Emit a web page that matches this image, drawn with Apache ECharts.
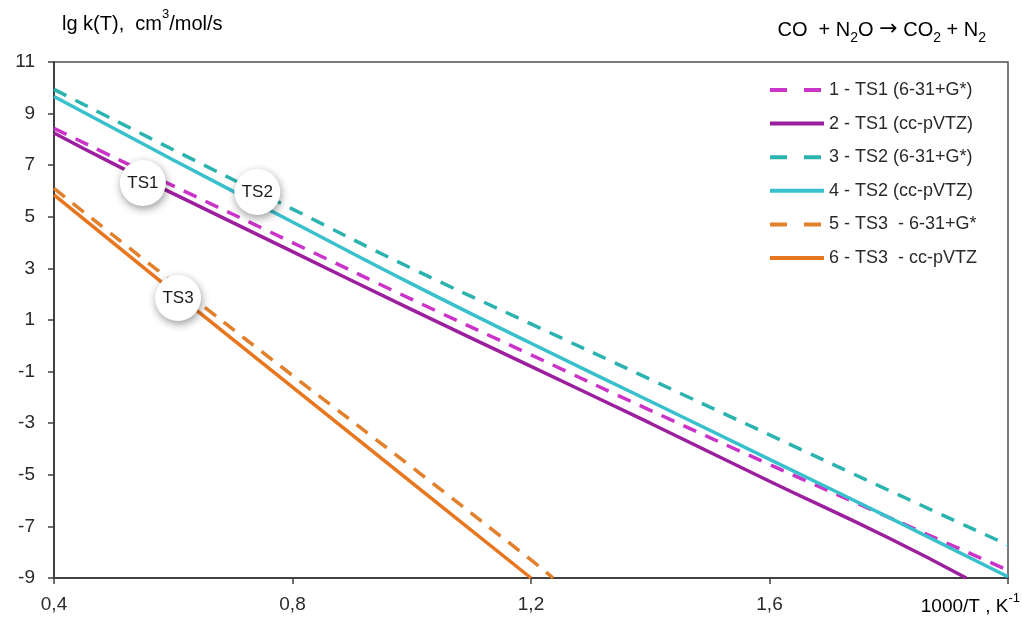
<!DOCTYPE html>
<html>
<head>
<meta charset="utf-8">
<script src="https://cdn.jsdelivr.net/npm/echarts@6/dist/echarts.min.js"></script>
<style>
  html, body { margin: 0; padding: 0; background: #fff; }
  #chart { width: 1022px; height: 620px; }
</style>
</head>
<body>
<div id="chart"></div>
<script>
// lg k(T) vs 1000/T
var ts1Basis = [[0.4, 8.43], [0.6, 6.2], [0.8, 4.0], [1.0, 1.8], [1.2, -0.35], [1.4, -2.5], [1.6, -4.6], [1.8, -6.65], [2.0, -8.7]];
var ts1Vtz = [[0.4, 8.25], [0.5, 7.05], [0.6, 5.9], [0.8, 3.65], [1.0, 1.4], [1.2, -0.8], [1.4, -3.0], [1.6, -5.25], [1.8, -7.45], [1.93, -9]];
var ts2Basis = [[0.4, 9.94], [0.6, 7.6], [0.8, 5.3], [1.0, 3.0], [1.2, 0.85], [1.4, -1.3], [1.6, -3.45], [1.8, -5.6], [2.0, -7.72]];
var ts2Vtz = [[0.4, 9.66], [0.6, 7.2], [0.8, 4.8], [1.0, 2.4], [1.2, 0.1], [1.4, -2.15], [1.6, -4.4], [1.8, -6.65], [2.0, -8.95]];
var ts3Basis = [[0.4, 6.1], [0.6, 2.45], [0.8, -1.15], [1.0, -4.7], [1.2, -8.3], [1.237, -9]];
var ts3Vtz = [[0.4, 5.85], [0.6, 2.1], [0.8, -1.6], [1.0, -5.3], [1.2, -9]];

var seriesNames = ['1 - TS1 (6-31+G*)', '2 - TS1 (cc-pVTZ)', '3 - TS2 (6-31+G*)', '4 - TS2 (cc-pVTZ)', '5 - TS3  - 6-31+G*', '6 - TS3  - cc-pVTZ'];
var seriesColors = ['#cc33c8', '#9c1f9e', '#2bb3b0', '#38c0cc', '#e2802c', '#e8761e'];
var seriesDashed = [true, false, true, false, true, false];

var xTicks = [0.4, 0.8, 1.2, 1.6, 2.0];
var yTicks = [-9, -7, -5, -3, -1, 1, 3, 5, 7, 9, 11];

// circle tags on the curves
var tagNames = ['TS1', 'TS2', 'TS3'];
var tagPoints = [[0.549, 6.31], [0.741, 5.96], [0.608, 1.85]];

var FONT = 'Liberation Sans, Arial, sans-serif';

var chart = echarts.init(document.getElementById('chart'));

function lineSeries(i, data) {
    return {
        name: seriesNames[i],
        type: 'line',
        data: data,
        symbol: 'none',
        smooth: true,
        lineStyle: {
            color: seriesColors[i],
            width: 3.5,
            type: seriesDashed[i] ? [14, 10] : 'solid'
        },
        itemStyle: { color: seriesColors[i] },
        z: 2
    };
}

var option = {
    backgroundColor: '#fff',
    animation: false,
    textStyle: { fontFamily: FONT },
    grid: {
        left: 54, right: 14, top: 62, bottom: 42,
        show: true, borderColor: '#505050', borderWidth: 1.5
    },
    legend: {
        data: seriesNames.map(function (n, i) {
            return {
                name: n,
                lineStyle: { type: seriesDashed[i] ? [17, 17] : 'solid' }
            };
        }),
        orient: 'vertical',
        left: 763,
        top: 76,
        itemWidth: 54,
        itemHeight: 14,
        itemGap: 15.6,
        itemStyle: { opacity: 0 },
        lineStyle: { width: 4 },
        textStyle: { fontFamily: FONT, fontSize: 18, lineHeight: 18, color: '#2a2a2a' }
    },
    graphic: [
        {
            type: 'text', left: 62, top: 8,
            style: {
                text: '{a|lg k(T),  cm}{s|3}{a|/mol/s}',
                rich: {
                    a: { fontFamily: FONT, fontSize: 20, color: '#2a2a2a', lineHeight: 26, verticalAlign: 'bottom' },
                    s: { fontFamily: FONT, fontSize: 13, color: '#2a2a2a', lineHeight: 26, verticalAlign: 'top', padding: [0, 0, 7, 0] }
                }
            }
        },
        {
            type: 'text', right: 36, top: 18,
            style: {
                text: '{a|CO  + N}{b|2}{a|O }{r|\u2192}{a| CO}{b|2}{a| + N}{b|2}',
                rich: {
                    a: { fontFamily: FONT, fontSize: 20, color: '#222', lineHeight: 26, verticalAlign: 'bottom' },
                    r: { fontFamily: 'DejaVu Sans', fontSize: 22, color: '#222', lineHeight: 26, verticalAlign: 'bottom' },
                    b: { fontFamily: FONT, fontSize: 14, color: '#222', lineHeight: 26, verticalAlign: 'bottom', padding: [0, 0, -5, 0] }
                }
            }
        },
        {
            type: 'text', right: 2, top: 592,
            style: {
                text: '{a|1000/T , K}{s|-1}',
                rich: {
                    a: { fontFamily: FONT, fontSize: 19, color: '#2a2a2a', lineHeight: 24, verticalAlign: 'bottom' },
                    s: { fontFamily: FONT, fontSize: 13, color: '#2a2a2a', lineHeight: 24, verticalAlign: 'top', padding: [0, 0, 7, 0] }
                }
            }
        }
    ],
    xAxis: {
        type: 'value',
        min: 0.4,
        max: 2.0,
        splitLine: { show: false },
        axisLine: { onZero: false, lineStyle: { color: '#404040', width: 2 } },
        axisTick: { show: true, length: 6, customValues: xTicks, lineStyle: { color: '#404040', width: 1.5 } },
        axisLabel: {
            customValues: xTicks,
            fontFamily: FONT, fontSize: 19, color: '#2a2a2a', margin: 17,
            formatter: function (v) {
                if (v > 1.9) return '';
                return v.toFixed(1).replace('.', ',');
            }
        }
    },
    yAxis: {
        type: 'value',
        min: -9,
        max: 11,
        splitLine: { show: false },
        axisLine: { onZero: false, lineStyle: { color: '#404040', width: 2 } },
        axisTick: { show: true, length: 6, customValues: yTicks, lineStyle: { color: '#404040', width: 1.5 } },
        axisLabel: {
            customValues: yTicks,
            fontFamily: FONT, fontSize: 19, color: '#2a2a2a', margin: 19
        }
    },
    series: [
        lineSeries(0, ts1Basis),
        lineSeries(1, ts1Vtz),
        lineSeries(2, ts2Basis),
        lineSeries(3, ts2Vtz),
        lineSeries(4, ts3Basis),
        lineSeries(5, ts3Vtz),
        {
            name: 'tags',
            type: 'scatter',
            symbol: 'circle',
            symbolSize: 46,
            z: 5,
            data: tagPoints.map(function (p, i) {
                return { name: tagNames[i], value: p };
            }),
            itemStyle: {
                color: '#fff',
                opacity: 1,
                shadowBlur: 9,
                shadowColor: 'rgba(0,0,0,0.4)',
                shadowOffsetX: 1,
                shadowOffsetY: 3
            },
            label: {
                show: true,
                position: 'inside',
                formatter: '{b}',
                fontFamily: FONT,
                fontSize: 17,
                color: '#1a1a1a'
            }
        }
    ]
};

chart.setOption(option);
</script>
</body>
</html>
